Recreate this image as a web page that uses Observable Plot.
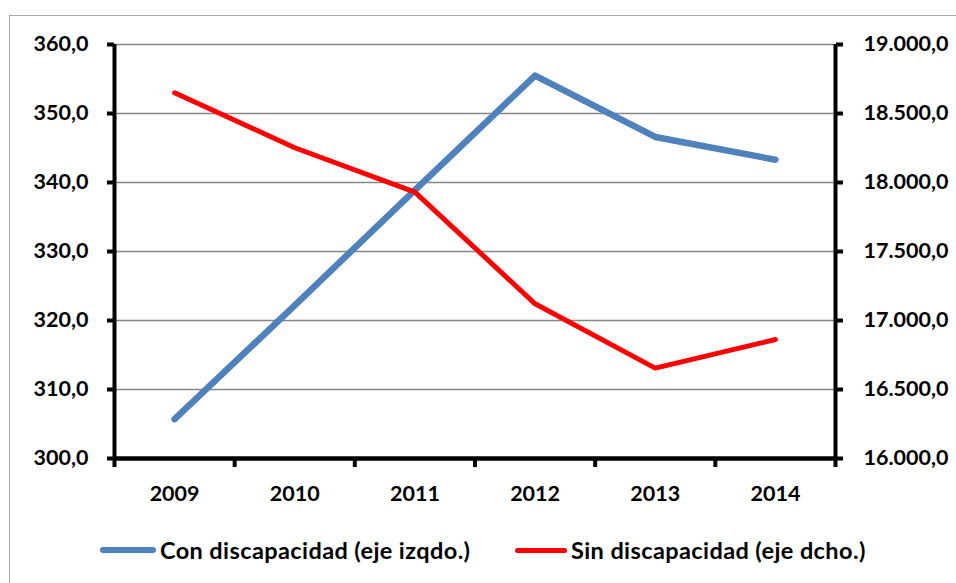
<!DOCTYPE html>
<html><head><meta charset="utf-8">
<script src="https://cdn.jsdelivr.net/npm/d3@7"></script>
<script src="https://cdn.jsdelivr.net/npm/@observablehq/plot@0.6"></script>
<style>
html,body{margin:0;padding:0;background:#fff;overflow:hidden;width:956px;height:583px;}
#wrap{position:relative;width:956px;height:583px;font-family:Lato,"Open Sans",sans-serif;font-weight:bold;}
#border{position:absolute;left:9px;top:15px;width:980px;height:600px;border:1.5px solid #a6a6a6;box-sizing:border-box;}
#chart{position:absolute;left:0;top:0;}
.leg{position:absolute;top:535px;height:30px;display:flex;align-items:center;font-size:23.5px;letter-spacing:0.4px;color:#000;white-space:nowrap;}
.sw{display:inline-block;height:6px;border-radius:3px;margin-right:4px;}
</style></head>
<body><div id="wrap"><div id="border"></div><div id="chart"></div>
<div class="leg" style="left:100px"><span class="sw" style="width:56px;background:#4F81BD"></span><span>Con discapacidad (eje izqdo.)</span></div>
<div class="leg" style="left:515px"><span class="sw" style="width:52px;height:5px;background:#FF0000"></span><span>Sin discapacidad (eje dcho.)</span></div>
</div>
<script>
const years = [2009, 2010, 2011, 2012, 2013, 2014];
const conDiscapacidad = [305.7, 322.2, 338.9, 355.5, 346.6, 343.3];
const sinDiscapacidad = [18650, 18252, 17930, 17121, 16655, 16862];
const leftTicks = [300, 310, 320, 330, 340, 350, 360];
const rightTicks = [16000, 16500, 17000, 17500, 18000, 18500, 19000];

const loc = d3.formatLocale({decimal: ",", thousands: ".", grouping: [3], currency: ["", ""]});
const fmt = loc.format(",.1f");
const L0 = leftTicks[0], L1 = leftTicks[leftTicks.length - 1];
const R0 = rightTicks[0], R1 = rightTicks[rightTicks.length - 1];
const toLeft = r => L0 + (r - R0) * (L1 - L0) / (R1 - R0);
const fromLeft = l => R0 + (l - L0) * (R1 - R0) / (L1 - L0);

const conData = years.map((y, i) => ({year: y, value: conDiscapacidad[i]}));
const sinData = years.map((y, i) => ({year: y, value: sinDiscapacidad[i]}));
const xMin = years[0] - 0.5, xMax = years[years.length - 1] + 0.5;
const bounds = years.map(y => y - 0.5).concat([xMax]);

const chart = Plot.plot({
  width: 956, height: 520,
  marginLeft: 114, marginRight: 121, marginTop: 44, marginBottom: 62,
  style: {fontFamily: "Lato, 'Open Sans', sans-serif", fontWeight: "bold", fontSize: "21.5px", color: "#000", background: "transparent"},
  x: {type: "linear", domain: [xMin, xMax], label: null},
  y: {domain: [L0, L1], label: null},
  marks: [
    Plot.gridY(leftTicks, {stroke: "#868686", strokeOpacity: 1, strokeWidth: 1.5}),
    Plot.line(conData, {x: "year", y: "value", stroke: "#4F81BD", strokeWidth: 6.5, strokeLinecap: "round", strokeLinejoin: "round"}),
    Plot.line(sinData, {x: "year", y: d => toLeft(d.value), stroke: "#FF0000", strokeWidth: 5, strokeLinecap: "round", strokeLinejoin: "round"}),
    Plot.ruleX([xMin, xMax], {y1: L0, y2: L1, stroke: "#000", strokeWidth: 4}),
    Plot.ruleY([L0], {x1: xMin, x2: xMax, stroke: "#000", strokeWidth: 4.5}),
    Plot.axisY(leftTicks, {anchor: "left", tickSize: 7, tickPadding: 19, strokeWidth: 4, tickFormat: fmt, fontSize: 21.5, label: null}),
    Plot.axisY(rightTicks.map(toLeft), {anchor: "right", tickSize: 7, tickPadding: 21, strokeWidth: 4, tickFormat: v => fmt(Math.round(fromLeft(v))), fontSize: 21.5, label: null}),
    Plot.axisX(bounds, {anchor: "bottom", tickSize: 9, strokeWidth: 4, tickFormat: () => "", label: null}),
    Plot.axisX(years, {anchor: "bottom", tickSize: 0, tickPadding: 27, tickFormat: d => String(d), fontSize: 21.5, label: null})
  ]
});
document.getElementById("chart").appendChild(chart);
</script></body></html>
